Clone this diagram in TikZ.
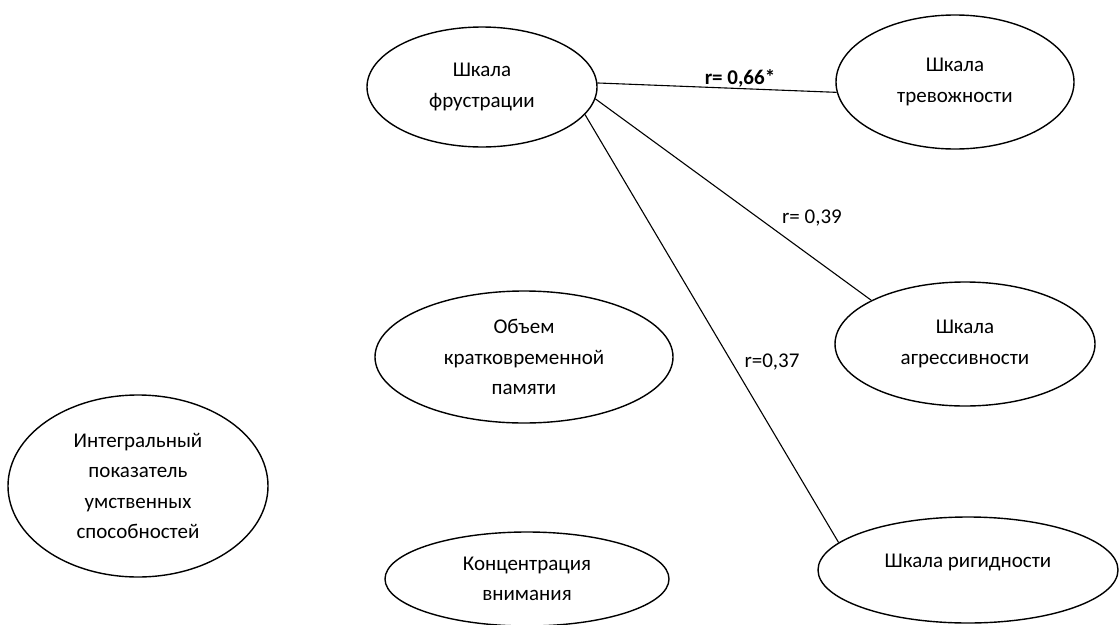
\documentclass[tikz,border=0pt]{standalone}
\usepackage{fontspec}
\setmainfont{Carlito}
\usetikzlibrary{shapes.geometric}
\tikzset{
  oval/.style={ellipse, draw=black, line width=1.4pt, inner sep=0pt, align=center,
    font=\fontsize{21}{30.5}\selectfont},
  link/.style={draw=black, line width=1.1pt},
  rlabel/.style={inner sep=0pt, font=\fontsize{21}{24}\selectfont}
}
\begin{document}
\begin{tikzpicture}[x=1pt,y=-1pt]
\useasboundingbox (0,0) rectangle (1119,624);
\node[oval, minimum width=230pt, minimum height=120pt] (fr) at (482,87) {Шкала\\фрустрации};
\node[oval, minimum width=238pt, minimum height=134pt] (an) at (955,82) {Шкала\\тревожности};
\node[oval, minimum width=260pt, minimum height=124pt] (ag) at (965,344) {Шкала\\агрессивности};
\node[oval, minimum width=298pt, minimum height=132pt] (mem) at (524,357) {Объем\\кратковременной\\памяти};
\node[oval, minimum width=260pt, minimum height=182pt] (int) at (138,486) {Интегральный\\показатель\\умственных\\способностей};
\node[oval, minimum width=284pt, minimum height=94pt] (con) at (527,579) {Концентрация\\внимания};
\node[oval, minimum width=300pt, minimum height=106pt, text depth=18pt] (rig) at (968,570) {Шкала ригидности};
\draw[link] (fr.2) -- (an.185);
\draw[link] (fr.354) -- (ag.155);
\draw[link] (fr.345) -- (rig.168);
\node[rlabel, font=\fontsize{21}{24}\selectfont\bfseries] (l1) at (740,78) {r= 0,66*};
\node[rlabel] (l2) at (812,218) {r= 0,39};
\node[rlabel] (l3) at (772,362) {r=0,37};
\end{tikzpicture}
\end{document}
